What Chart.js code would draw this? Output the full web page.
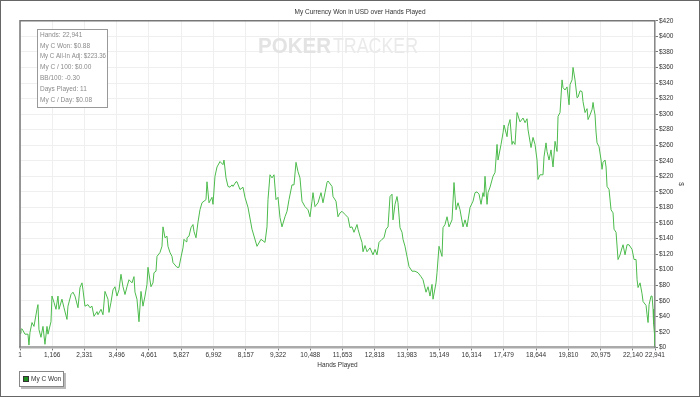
<!DOCTYPE html>
<html>
<head>
<meta charset="utf-8">
<script src="https://cdn.jsdelivr.net/npm/chart.js@4.4.0/dist/chart.umd.min.js"></script>
<style>
  html, body { margin: 0; padding: 0; background: #fff; }
  #wrap { width: 700px; height: 397px; position: relative; }
</style>
</head>
<body>
<div id="wrap"><canvas id="wonChart"></canvas></div>
<script>
// hands played (x) and cumulative winnings in USD (y)
const handsPlayed = [
  1,36,72,181,289,325,361,434,506,614,650,686,759,831,903,976,1012,1120,1156,1228,
  1301,1373,1409,1517,1590,1698,1734,1843,1915,1987,2096,2168,2240,2276,2348,2457,2529,2601,2674,2782,
  2818,2927,2999,3071,3179,3216,3288,3360,3432,3505,3577,3649,3721,3794,3866,3938,4047,4119,
  4155,4227,4299,4372,4444,4516,4588,4625,4733,4805,4841,4914,4950,5058,5130,5167,5239,5311,5347,5420,
  5492,5528,5672,5745,5817,5889,5925,5998,6034,6106,6178,6250,6287,6359,6431,6503,6576,6612,6720,6756,
  6829,6937,6973,7045,7118,7226,7334,7371,7443,7515,7587,7660,7696,7804,7840,7949,8057,8129,8238,
  8382,8563,8707,8852,8924,8960,9033,9105,9177,9249,9322,9394,9466,9574,9647,9719,9827,9900,9972,10044,
  10116,10189,10297,10405,10478,10550,10586,10658,10767,10875,10947,11020,11092,11128,11273,11309,11417,11489,11562,11634,
  11742,11851,11923,11995,12067,12176,12212,12284,12356,12393,12465,
  12537,12646,12754,12826,12898,12971,13079,13151,13224,13296,13368,13440,13476,13549,13621,13657,13729,13802,13838,13910,
  13982,14055,14163,14271,14380,14488,14560,14669,14741,14813,14886,14922,15030,15066,15138,15247,15283,15355,15428,15500,
  15608,15680,15753,15825,15897,16006,16078,16150,16259,16367,16439,16511,
  16584,16656,16728,16764,16800,16873,16909,16981,17089,17162,17234,17270,17379,17451,17487,17595,17631,17704,17776,17812,
  17884,17957,18065,18173,18246,18318,18354,18462,18535,18607,18679,18715,18788,18896,18932,19004,19041,19113,19185,19257,
  19330,19402,19438,19510,19583,19619,19691,19763,19836,19872,19944,19980,20052,20125,20161,20233,
  20305,20341,20414,20486,20522,20594,20667,20703,20739,20775,20811,20847,20920,20992,21028,21064,21136,21173,21209,21281,
  21353,21425,21461,21534,21606,21678,21750,21787,21859,21931,22003,22112,22184,22257,22293,22329,22401,22473,22510,22618,
  22654,22690,22727,22799,22835,22871,22890,22920,22941
];
const myCWon = [
  18,23,24,17,17,3,19,32,27,49,55,23,13,27,4,27,17,33,66,58,
  49,66,49,62,51,36,53,68,71,66,51,77,83,74,53,55,51,53,40,46,
  42,49,42,72,62,45,58,74,78,66,74,94,78,68,78,87,83,91,
  71,62,33,72,53,66,81,103,78,83,96,98,117,122,130,155,141,143,130,122,
  117,109,103,103,116,128,139,136,141,143,154,158,149,141,161,177,186,186,190,213,
  186,193,184,220,232,239,235,241,218,207,206,209,207,213,213,203,206,193,180,
  152,130,139,135,155,190,222,218,222,190,193,167,155,168,175,190,209,209,238,226,
  218,188,181,177,168,188,199,181,186,199,186,199,212,214,207,194,188,168,173,175,
  171,167,154,155,148,158,152,143,135,123,131,
  123,128,119,126,119,135,139,141,152,155,194,197,164,184,194,186,154,148,139,130,
  117,104,98,98,96,91,87,71,78,66,81,62,83,96,130,117,154,158,168,155,
  164,212,177,186,177,155,164,155,180,188,199,200,
  197,184,199,194,220,184,199,206,220,225,261,241,261,276,286,271,284,293,261,265,
  261,302,290,295,289,294,280,257,270,261,241,216,222,222,245,263,252,241,254,232,
  265,252,297,302,344,334,331,335,312,338,344,360,344,321,322,330,
  329,316,302,307,293,299,306,315,306,299,277,263,258,241,229,238,241,232,207,203,
  177,173,152,148,113,119,128,132,119,132,132,126,113,113,87,77,83,69,59,54,
  42,32,55,66,66,49,30,19,0.88
];
const xTickValues = [1,1166,2331,3496,4661,5827,6992,8157,9322,10488,11653,12818,13983,15149,16314,17479,18644,19810,20975,22140,22941];
const statsLines = [
  'Hands: 22,941',
  'My C Won: $0.88',
  'My C All-In Adj: $223.36',
  'My C / 100: $0.00',
  'BB/100: -0.30',
  'Days Played: 11',
  'My C / Day: $0.08'
];

const FONT = "'Liberation Sans', Arial, sans-serif";
Chart.defaults.font.family = FONT;
Chart.defaults.font.size = 6.5;
Chart.defaults.color = '#333';

function withCommas(v) {
  return String(v).replace(/\B(?=(\d{3})+(?!\d))/g, ',');
}

// 背景・透かし・統計ボックス・凡例・枠線
const decorPlugin = {
  id: 'decor',
  beforeDraw(chart) {
    const ctx = chart.ctx;
    ctx.save();
    ctx.fillStyle = '#fff';
    ctx.fillRect(0, 0, chart.width, chart.height);
    ctx.restore();
  },
  beforeDatasetsDraw(chart) {
    const ctx = chart.ctx;
    ctx.save();
    ctx.textBaseline = 'middle';
    ctx.font = 'bold 22px ' + FONT;
    ctx.fillStyle = '#e3e3e3';
    ctx.fillText('POKER', 258, 47, 73);
    ctx.font = '22px ' + FONT;
    ctx.fillStyle = '#eaeaea';
    ctx.fillText('TRACKER', 333, 47, 85);
    ctx.restore();
  },
  afterDraw(chart) {
    const ctx = chart.ctx;
    const a = chart.chartArea;
    ctx.save();

    // plot frame (left / top)
    ctx.strokeStyle = '#777';
    ctx.lineWidth = 1.5;
    ctx.beginPath();
    ctx.moveTo(a.left, a.bottom);
    ctx.lineTo(a.left, a.top);
    ctx.lineTo(a.right, a.top);
    ctx.stroke();

    // stats box
    ctx.fillStyle = '#fff';
    ctx.fillRect(37, 29, 71, 79);
    ctx.strokeStyle = '#999';
    ctx.lineWidth = 1;
    ctx.strokeRect(37.5, 29.5, 70, 78);
    ctx.fillStyle = '#8a8a8a';
    ctx.font = '6.5px ' + FONT;
    ctx.textBaseline = 'middle';
    statsLines.forEach((t, i) => ctx.fillText(t, 40, 35 + i * 10.85, 66));

    // legend
    const ds = chart.data.datasets[0];
    ctx.fillStyle = '#bbb';
    ctx.fillRect(21, 373, 45, 16);
    ctx.fillStyle = '#fff';
    ctx.fillRect(19, 371, 45, 16);
    ctx.strokeStyle = '#888';
    ctx.strokeRect(19.5, 371.5, 44, 15);
    ctx.fillStyle = '#1f8f1f';
    ctx.fillRect(23, 376, 6, 6);
    ctx.strokeStyle = '#333';
    ctx.strokeRect(23.5, 376.5, 5, 5);
    ctx.fillStyle = '#333';
    ctx.fillText(ds.label, 31, 379.5);

    // outer border
    ctx.strokeStyle = '#666';
    ctx.strokeRect(0.5, 0.5, chart.width - 1, chart.height - 1);
    ctx.restore();
  }
};

new Chart(document.getElementById('wonChart').getContext('2d'), {
  type: 'line',
  data: {
    datasets: [{
      label: 'My C Won',
      data: handsPlayed.map((h, i) => ({ x: h, y: myCWon[i] })),
      borderColor: '#4cbb4c',
      borderWidth: 1,
      pointRadius: 0,
      tension: 0,
      fill: false
    }]
  },
  options: {
    responsive: true,
    maintainAspectRatio: false,
    animation: false,
    layout: { padding: { left: 20, right: 0, top: 0, bottom: 28 } },
    plugins: {
      legend: { display: false },
      tooltip: { enabled: false },
      title: {
        display: true,
        text: 'My Currency Won in USD over Hands Played',
        color: '#333',
        font: { size: 6.5, weight: 'normal' },
        padding: { top: 8, bottom: 5 }
      }
    },
    scales: {
      x: {
        type: 'linear',
        min: 1,
        max: 22941,
        afterBuildTicks(scale) {
          scale.ticks = xTickValues.map(v => ({ value: v }));
        },
        ticks: { autoSkip: false, maxRotation: 0, padding: 1, color: '#333', callback: v => withCommas(v) },
        grid: { color: '#efefef', tickLength: 3, tickColor: '#777' },
        border: { color: '#aaa', width: 2.5 },
        title: { display: true, text: 'Hands Played', color: '#333', padding: { top: 1, bottom: 0 } }
      },
      y: {
        position: 'right',
        min: 0,
        max: 420,
        afterFit(scale) { scale.width = 45; },
        ticks: { stepSize: 20, padding: 1, color: '#333', callback: v => '$' + v },
        grid: { color: '#efefef', tickLength: 3, tickColor: '#777' },
        border: { color: '#888', width: 1.5 },
        title: { display: true, text: '$', color: '#333', padding: { top: 15, bottom: 0 } }
      }
    }
  },
  plugins: [decorPlugin]
});
</script>
</body>
</html>
